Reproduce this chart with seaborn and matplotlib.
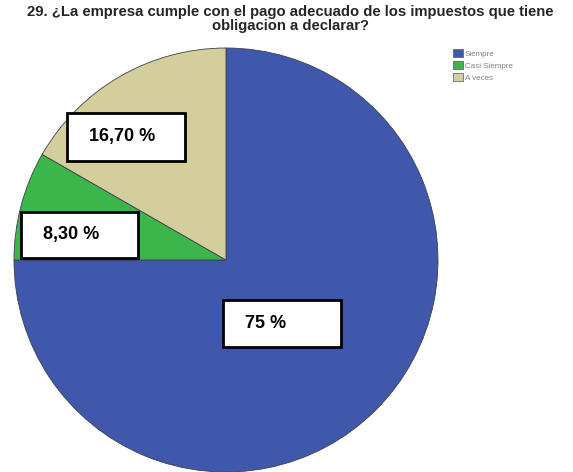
import matplotlib
matplotlib.use("Agg")
import matplotlib.pyplot as plt
from matplotlib.patches import Rectangle, Patch
import seaborn as sns

# Survey answers and their shares (%)
categories = ["Siempre", "Casi Siempre", "A veces"]
percentages = [75.0, 8.3, 16.7]
slice_colors = ["#3f58ab", "#3cb54b", "#d4cd9c"]
title_lines = [
    "29. ¿La empresa cumple con el pago adecuado de los impuestos que tiene",
    "obligacion a declarar?",
]

sns.set_theme(style="white")
plt.rcParams["font.family"] = ["Liberation Sans", "DejaVu Sans"]

W, H = 573, 472
fig = plt.figure(figsize=(W / 100, H / 100), dpi=100)
fig.patch.set_facecolor("white")

# Pie axes: centre and radius in pixels
cx, cy, r = 226, 260, 212
ax = fig.add_axes([(cx - r) / W, (H - cy - r) / H, 2 * r / W, 2 * r / H])
wedges, _ = ax.pie(
    percentages,
    colors=slice_colors,
    startangle=90,
    counterclock=False,
    radius=1.0,
    wedgeprops=dict(edgecolor="#3a4050", linewidth=0.6),
)
ax.set_xlim(-1, 1)
ax.set_ylim(-1, 1)
ax.set_aspect("equal")
ax.axis("off")


def pct_label(v):
    if float(v).is_integer():
        return f"{v:.0f} %"
    return f"{v:.2f} %".replace(".", ",")


# Label boxes (left, top, right, bottom) in pixels, one per category
label_boxes = {
    "Siempre": (223, 300, 341, 347),
    "Casi Siempre": (21, 212, 138, 258),
    "A veces": (67, 113, 185, 161),
}


def fx(px):
    return px / W


def fy(py):
    return 1 - py / H


for cat, val in zip(categories, percentages):
    l, t, rr, b = label_boxes[cat]
    fig.patches.append(
        Rectangle((fx(l), fy(b)), (rr - l) / W, (b - t) / H,
                  transform=fig.transFigure, facecolor="white",
                  edgecolor="black", linewidth=2.0, zorder=5)
    )
    fig.text(fx(l + 22), fy((t + b) / 2), pct_label(val), ha="left",
             va="center", fontsize=13, fontweight="bold", color="black",
             zorder=6)

# Title
fig.text(fx(290), fy(5), title_lines[0], ha="center", va="top",
         fontsize=10.7, fontweight="bold", color="#262626")
fig.text(fx(291), fy(19), title_lines[1], ha="center", va="top",
         fontsize=10.7, fontweight="bold", color="#262626")

# Legend
handles = [Patch(facecolor=c, edgecolor="#555555", linewidth=0.5)
           for c in slice_colors]
fig.legend(handles, categories, loc="upper left",
           bbox_to_anchor=(fx(453), fy(49)), frameon=False, fontsize=5.8,
           handlelength=1.2, handleheight=1.2, labelspacing=0.4,
           handletextpad=0.3, borderaxespad=0, borderpad=0,
           labelcolor="#808080")

fig.savefig("out.png", dpi=100)
